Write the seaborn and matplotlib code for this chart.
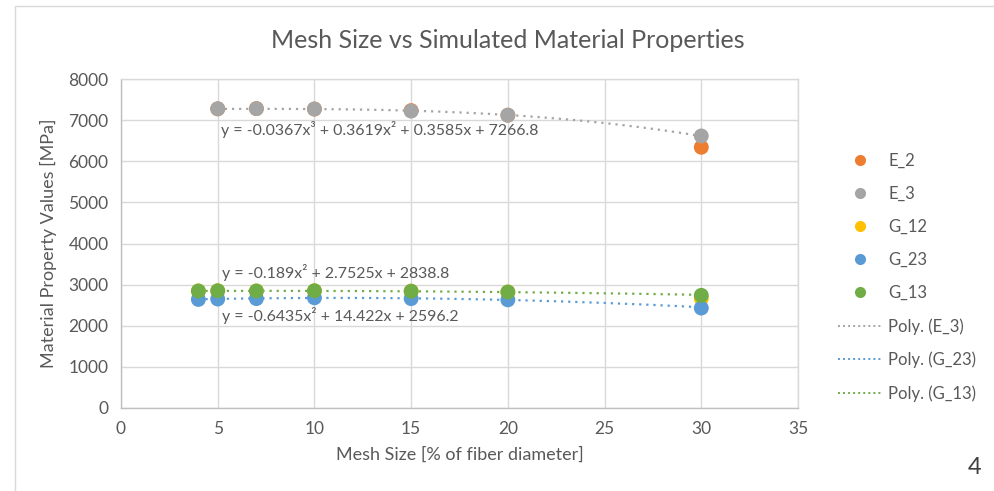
import numpy as np
import pandas as pd
import matplotlib
matplotlib.use("Agg")
import matplotlib.pyplot as plt
from matplotlib.lines import Line2D
from matplotlib.patches import Rectangle
import seaborn as sns

# ---- data ----
x_e = [5, 7, 10, 15, 20, 30]
E_2 = [7275, 7280, 7270, 7232, 7120, 6340]
E_3 = [7275, 7280, 7270, 7220, 7120, 6615]
x_g = [4, 5, 7, 10, 15, 20, 30]
G_12 = [2845, 2850, 2845, 2850, 2840, 2820, 2660]
G_23 = [2640, 2650, 2660, 2680, 2660, 2630, 2430]
G_13 = [2845, 2850, 2845, 2850, 2840, 2820, 2740]
series_names = ["E_2", "E_3", "G_12", "G_23", "G_13"]
colors = ["#ED7D31", "#A5A5A5", "#FFC000", "#5B9BD5", "#70AD47"]

# trendline coefficients shown on the chart (highest power first)
coef_E3 = [-0.0367, 0.3619, 0.3585, 7266.8]
coef_G13 = [-0.189, 2.7525, 2838.8]
coef_G23 = [-0.6435, 14.422, 2596.2]
eq_E3 = "y = -0.0367x³ + 0.3619x² + 0.3585x + 7266.8"
eq_G13 = "y = -0.189x² + 2.7525x + 2838.8"
eq_G23 = "y = -0.6435x² + 14.422x + 2596.2"

title = "Mesh Size vs Simulated Material Properties"
xlabel = "Mesh Size [% of fiber diameter]"
ylabel = "Material Property Values [MPa]"
xticks = [0, 5, 10, 15, 20, 25, 30, 35]
yticks = [0, 1000, 2000, 3000, 4000, 5000, 6000, 7000, 8000]

# ---- style ----
sns.set_theme(style="whitegrid")
plt.rcParams["font.family"] = ["Lato", "DejaVu Sans"]
txt = "#595959"
grid = "#D9D9D9"

fig = plt.figure(figsize=(9.94, 4.91), dpi=100)
ax = fig.add_axes([121/994, 1-408/491, (798-121)/994, (408-79)/491])

frames = []
for name, xs, ys in [("E_2", x_e, E_2), ("E_3", x_e, E_3), ("G_12", x_g, G_12),
                     ("G_23", x_g, G_23), ("G_13", x_g, G_13)]:
    frames.append(pd.DataFrame({"x": xs, "y": ys, "series": name}))
df = pd.concat(frames, ignore_index=True)

# trendlines
for coef, xs, col in [(coef_E3, x_e, colors[1]), (coef_G23, x_g, colors[3]),
                      (coef_G13, x_g, colors[4])]:
    xx = np.linspace(min(xs), max(xs), 200)
    ax.plot(xx, np.polyval(coef, xx), linestyle=(0, (1, 2.2)), color=col,
            linewidth=1.6, zorder=2)

for name, col in zip(series_names, colors):
    sub = df[df.series == name]
    sns.scatterplot(data=sub, x="x", y="y", color=col, s=115, edgecolor="none",
                    ax=ax, zorder=3, legend=False)

ax.set_xlim(0, 35)
ax.set_ylim(0, 8000)
ax.set_xticks(xticks)
ax.set_yticks(yticks)
ax.grid(True, color=grid, linewidth=1.0)
for s in ax.spines.values():
    s.set_color(grid)
    s.set_linewidth(1.0)
ax.spines["left"].set_color("#BFBFBF")
ax.spines["bottom"].set_color("#BFBFBF")
ax.tick_params(axis="both", colors=txt, labelsize=12.5, length=0, pad=9)
ax.set_xlabel(xlabel, fontsize=13, color=txt, labelpad=7)
ax.set_ylabel(ylabel, fontsize=13, color=txt, labelpad=8)
ax.set_facecolor("white")

fig.text(508/994, 1-40/491, title, ha="center", va="center", fontsize=18, color=txt)

ax.text(5.15, 6760, eq_E3, fontsize=11.4, color=txt, va="center", ha="left", zorder=4)
ax.text(5.2, 3290, eq_G13, fontsize=11.4, color=txt, va="center", ha="left", zorder=4)
ax.text(5.2, 2255, eq_G23, fontsize=11.4, color=txt, va="center", ha="left", zorder=4)

# legend
handles = []
for name, col in zip(series_names, colors):
    handles.append(Line2D([], [], linestyle="none", marker="o", markersize=8,
                          markerfacecolor=col, markeredgecolor="none", label=name))
for lab, col in [("Poly. (E_3)", colors[1]), ("Poly. (G_23)", colors[3]),
                 ("Poly. (G_13)", colors[4])]:
    handles.append(Line2D([], [], linestyle=(0, (1, 1.6)), color=col, linewidth=1.4,
                          label=lab))
leg = ax.legend(handles=handles, loc="upper left", bbox_to_anchor=(823/994, 1-138/491),
                bbox_transform=fig.transFigure, frameon=False, fontsize=12,
                labelspacing=1.02, handlelength=2.6, handletextpad=0.4)
for t in leg.get_texts():
    t.set_color(txt)

# chart border
fig.patches.append(Rectangle((15/994, 1-6/491), 1.0, -1.0, transform=fig.transFigure,
                             fill=False, edgecolor="#D9D9D9", linewidth=1.0))
fig.text(975/994, 1-468/491, "4", ha="center", va="center", fontsize=17, color="#404040")

fig.savefig("out.png", dpi=100, facecolor="white")
